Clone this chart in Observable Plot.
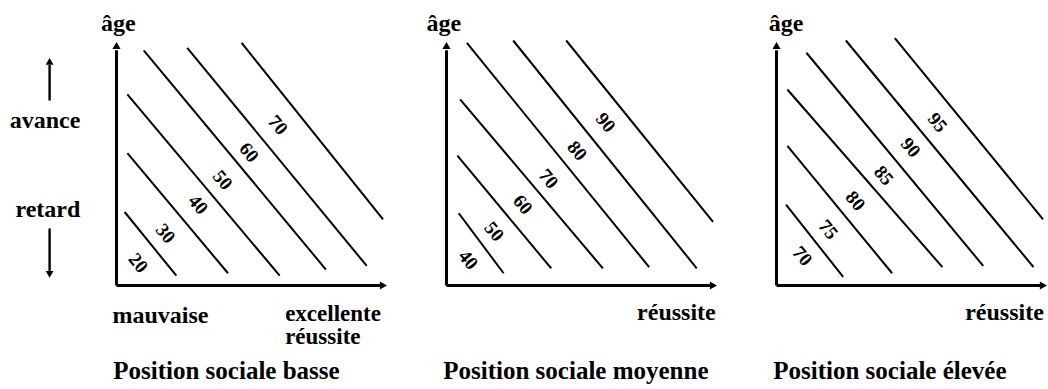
<!DOCTYPE html>
<html>
<head>
<meta charset="utf-8">
<script src="https://cdn.jsdelivr.net/npm/d3@7"></script>
<script src="https://cdn.jsdelivr.net/npm/@observablehq/plot@0.6"></script>
<style>
  html, body { margin: 0; padding: 0; background: #fff; }
  #chart svg { display: block; }
</style>
</head>
<body>
<div id="chart"></div>
<script>
// ---- Data (diagram units: réussite 0–10 horizontally, âge 0–10 vertically) ----
const panelKeys = ["basse", "moyenne", "élevée"];
const panelTitles = ["Position sociale basse", "Position sociale moyenne", "Position sociale élevée"];

// iso-lines: values written along them
const isoValuesBasse   = [20, 30, 40, 50, 60, 70];
const isoValuesMoyenne = [40, 50, 60, 70, 80, 90];
const isoValuesElevee  = [70, 75, 80, 85, 90, 95];

// iso-line segments: [réussite start, âge start, réussite end, âge end]
const segBasse = [
  [0.3, 3.0, 2.2, 0.4], [0.4, 5.4, 4.1, 0.5], [0.4, 7.8, 6.0, 0.4],
  [1.0, 9.6, 7.7, 0.65], [2.6, 9.7, 9.2, 0.8], [4.6, 9.9, 9.8, 2.7]
];
const segMoyenne = [
  [0.45, 2.95, 2.1, 0.5], [0.4, 5.3, 3.85, 0.7], [0.5, 7.6, 5.75, 0.7],
  [0.75, 9.9, 7.45, 0.75], [2.45, 10.0, 9.2, 0.7], [4.4, 10.0, 9.8, 2.6]
];
const segElevee = [
  [0.35, 3.3, 2.45, 0.35], [0.4, 5.7, 4.25, 0.5], [0.4, 8.0, 6.1, 0.75],
  [1.1, 9.5, 7.6, 0.8], [2.55, 10.0, 9.45, 0.75], [4.35, 10.1, 9.8, 2.7]
];

// where each value is written: [réussite, âge]
const labelPosBasse   = [[0.8, 0.92], [1.8, 2.12], [3.0, 3.3], [3.9, 4.3], [4.87, 5.43], [5.93, 6.55]];
const labelPosMoyenne = [[0.8, 1.05], [1.75, 2.2], [2.8, 3.3], [3.75, 4.35], [4.8, 5.5], [5.85, 6.65]];
const labelPosElevee  = [[0.95, 1.2], [1.9, 2.28], [2.9, 3.45], [3.94, 4.49], [4.93, 5.63], [5.92, 6.65]];

// axis wording
const ageLabel = "âge";
const ageLabelX = [0.07, -0.1, 0.35];
const sideLabels = ["avance", "retard"];
const sideLabelAge = [6.73, 3.1];
const lowLabel = "mauvaise";
const highLabel = "excellente\nréussite";
const reussiteLabel = "réussite";

// ---- Build tables ----
const segsAll = [segBasse, segMoyenne, segElevee];
const valsAll = [isoValuesBasse, isoValuesMoyenne, isoValuesElevee];
const labsAll = [labelPosBasse, labelPosMoyenne, labelPosElevee];

const isoLines = [];
const isoLabels = [];
panelKeys.forEach((p, i) => {
  valsAll[i].forEach((v, j) => {
    const s = segsAll[i][j];
    isoLines.push({panel: p, value: v, x1: s[0], y1: s[1], x2: s[2], y2: s[3]});
    const l = labsAll[i][j];
    isoLabels.push({panel: p, value: v, x: l[0], y: l[1]});
  });
});

const axisShafts = [];
const axisHeads = [];
panelKeys.forEach(p => {
  axisShafts.push({panel: p, x1: 0, y1: 0, x2: 0, y2: 9.6, w: 3});
  axisShafts.push({panel: p, x1: 0, y1: 0, x2: 9.7, y2: 0, w: 3});
  axisHeads.push({panel: p, x: 0, y: 9.75, rot: 0, r: 4.2});
  axisHeads.push({panel: p, x: 9.77, y: 0, rot: 90, r: 4.2});
});
// avance / retard arrows (left of first panel)
axisShafts.push({panel: "basse", x1: -2.46, y1: 7.55, x2: -2.46, y2: 9.0, w: 2.4});
axisShafts.push({panel: "basse", x1: -2.46, y1: 2.33, x2: -2.46, y2: 0.6, w: 2.4});
axisHeads.push({panel: "basse", x: -2.46, y: 9.1, rot: 0, r: 3.8});
axisHeads.push({panel: "basse", x: -2.46, y: 0.5, rot: 180, r: 3.8});

const textsMiddle = panelKeys.map((p, i) => ({panel: p, x: ageLabelX[i], y: 10.7, text: ageLabel}));
const titles = panelKeys.map((p, i) => ({panel: p, x: -0.12, y: -3.47, text: panelTitles[i]}));
const textsStart = [{panel: "basse", x: -0.15, y: -1.22, text: lowLabel}];
const textsTwoLine = [{panel: "basse", x: 6.2, y: -1.6, text: highLabel}];
const textsEnd = sideLabels.map((t, i) => ({panel: "basse", x: -1.33, y: sideLabelAge[i], text: t}));
textsEnd.push({panel: "moyenne", x: 9.9, y: -1.1, text: reussiteLabel});
textsEnd.push({panel: "élevée", x: 9.83, y: -1.1, text: reussiteLabel});

const FONT = "'Liberation Serif', 'DejaVu Serif', serif";
const textOpts = (anchor, size, lh = 1) => ({x: "x", y: "y", fx: "panel", text: "text", textAnchor: anchor,
  fontSize: size, fontWeight: "bold", fill: "#000", lineHeight: lh});

const chart = Plot.plot({
  width: 1048,
  height: 389,
  marginLeft: 116,
  marginRight: 0,
  marginTop: 40,
  marginBottom: 104,
  style: {fontFamily: FONT, fontWeight: "bold", background: "#fff", color: "#000"},
  fx: {domain: panelKeys, paddingInner: 0.176, paddingOuter: 0, axis: null},
  x: {domain: [0, 10], axis: null},
  y: {domain: [0, 10], axis: null},
  marks: [
    Plot.link(isoLines, {x1: "x1", y1: "y1", x2: "x2", y2: "y2", fx: "panel", stroke: "#000", strokeWidth: 2}),
    Plot.text(isoLabels, {x: "x", y: "y", fx: "panel", text: d => String(d.value), rotate: 50,
      fontSize: 19, fontWeight: "bold", fill: "#000"}),
    Plot.link(axisShafts, {x1: "x1", y1: "y1", x2: "x2", y2: "y2", fx: "panel", stroke: "#000", strokeWidth: "w"}),
    Plot.dot(axisHeads, {x: "x", y: "y", fx: "panel", symbol: "triangle", r: "r", rotate: "rot", fill: "#000", stroke: "none"}),
    Plot.text(textsMiddle, textOpts("middle", 24)),
    Plot.text(textsStart, textOpts("start", 24)),
    Plot.text(textsTwoLine, textOpts("start", 23, 1.0)),
    Plot.text(textsEnd, textOpts("end", 24)),
    Plot.text(titles, textOpts("start", 25))
  ]
});
document.getElementById("chart").appendChild(chart);
</script>
</body>
</html>
